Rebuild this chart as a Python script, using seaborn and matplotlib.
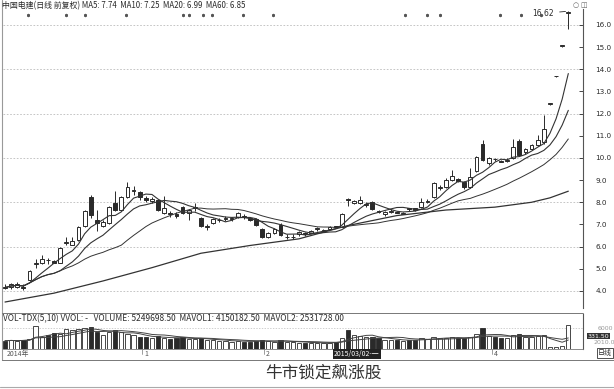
import numpy as np
import pandas as pd
import matplotlib
matplotlib.use("Agg")
import matplotlib.pyplot as plt
import seaborn as sns

# ---------------- data ----------------
opens = [4.20, 4.20, 4.20, 4.20, 4.50, 5.20, 5.25, 5.40, 5.35, 5.28,
         6.15, 6.08, 6.30, 6.95, 8.24, 7.20, 6.95, 7.07, 7.97, 7.65,
         8.24, 8.50, 8.47, 8.20, 8.05, 8.10, 7.50, 7.52, 7.47, 7.80,
         7.50, 7.73, 7.30, 6.88, 7.07, 7.18, 7.24, 7.23, 7.35, 7.38,
         7.30, 7.25, 6.80, 6.43, 6.62, 6.98, 6.42, 6.42, 6.55, 6.60,
         6.62, 6.78, 6.72, 6.80, 6.92, 6.90, 8.17, 7.95, 7.95, 7.88,
         8.00, 7.62, 7.45, 7.58, 7.58, 7.47, 7.72, 7.72, 7.80, 8.03,
         8.24, 8.63, 8.70, 9.00, 9.05, 8.90, 8.70, 9.40, 10.63, 9.75,
         9.97, 9.88, 9.88, 10.00, 10.77, 10.25, 10.40, 10.60, 10.70, 12.43,
         13.68, 15.05, 16.56]
closes = [4.15, 4.30, 4.30, 4.15, 4.90, 5.25, 5.45, 5.38, 5.28, 5.94,
          6.20, 6.25, 6.90, 7.60, 7.43, 7.05, 7.10, 7.80, 7.65, 8.24,
          8.70, 8.55, 8.24, 8.12, 8.15, 7.65, 7.75, 7.45, 7.40, 7.50,
          7.65, 7.77, 6.93, 6.92, 7.25, 7.22, 7.26, 7.27, 7.50, 7.33,
          7.22, 6.98, 6.43, 6.62, 6.78, 6.52, 6.45, 6.45, 6.65, 6.55,
          6.70, 6.82, 6.75, 6.90, 6.88, 7.47, 8.12, 8.05, 8.10, 7.92,
          7.70, 7.58, 7.55, 7.62, 7.53, 7.53, 7.68, 7.66, 8.00, 8.06,
          8.85, 8.67, 9.00, 9.20, 8.98, 8.70, 9.15, 10.05, 9.90, 10.00,
          9.93, 9.83, 9.92, 10.50, 10.13, 10.40, 10.60, 10.80, 11.30, 12.45,
          13.68, 15.05, 16.56]
highs = [4.30, 4.35, 4.40, 4.30, 4.95, 5.45, 5.60, 5.50, 5.40, 5.98,
         6.45, 6.45, 6.95, 7.65, 8.35, 7.65, 7.20, 7.85, 8.50, 8.30,
         8.90, 8.75, 8.50, 8.30, 8.25, 8.15, 8.30, 7.60, 7.55, 7.85,
         7.70, 7.95, 7.35, 7.00, 7.30, 7.30, 7.40, 7.35, 7.55, 7.45,
         7.35, 7.30, 6.85, 6.65, 6.85, 7.05, 6.55, 6.55, 6.70, 6.65,
         6.75, 6.90, 6.80, 6.92, 6.95, 7.50, 8.20, 8.10, 8.30, 8.00,
         8.05, 7.65, 7.60, 7.70, 7.60, 7.58, 7.75, 7.75, 8.20, 8.15,
         8.90, 8.80, 9.10, 9.45, 9.10, 8.95, 9.55, 10.10, 10.80, 10.05,
         10.00, 9.90, 10.00, 10.85, 10.85, 10.45, 10.65, 11.05, 11.95, 12.45,
         13.68, 15.05, 16.62]
lows = [4.10, 4.10, 4.15, 4.05, 4.45, 5.05, 5.20, 5.20, 5.25, 5.25,
        6.05, 6.05, 6.25, 6.90, 7.30, 6.70, 6.90, 7.00, 7.60, 7.60,
        8.20, 8.35, 8.10, 8.00, 7.95, 7.60, 7.45, 7.35, 7.30, 7.45,
        7.20, 7.60, 6.90, 6.75, 7.00, 7.10, 7.15, 7.15, 7.30, 7.25,
        7.15, 6.95, 6.40, 6.40, 6.55, 6.50, 6.35, 6.35, 6.50, 6.50,
        6.60, 6.70, 6.65, 6.78, 6.85, 6.88, 7.85, 7.90, 7.90, 7.80,
        7.65, 7.50, 7.40, 7.50, 7.50, 7.45, 7.60, 7.60, 7.75, 7.95,
        8.20, 8.55, 8.65, 8.95, 8.90, 8.60, 8.65, 9.35, 9.85, 9.70,
        9.85, 9.80, 9.80, 9.95, 10.10, 10.20, 10.35, 10.55, 10.65, 12.40,
        13.65, 15.00, 15.80]
# volume in units of 10,000
volumes = [230, 250, 220, 260, 280, 635, 340, 380, 440, 420,
           550, 530, 550, 575, 630, 465, 380, 465, 525, 465,
           425, 380, 340, 330, 300, 360, 320, 290, 300, 330,
           280, 270, 300, 260, 240, 230, 220, 210, 230, 210,
           200, 220, 260, 220, 210, 240, 200, 190, 180, 170,
           175, 180, 170, 175, 190, 300, 525, 380, 360, 340,
           330, 300, 260, 250, 240, 230, 250, 260, 300, 280,
           330, 300, 320, 340, 310, 300, 330, 420, 590, 360,
           330, 320, 300, 380, 420, 340, 330, 360, 380, 60,
           70, 80, 670]
# MA60 line read at sample candles
ma60_idx = [0, 8, 16, 24, 32, 40, 48, 56, 64, 72, 80, 86, 89, 92]
ma60_val = [3.50, 3.90, 4.45, 5.05, 5.70, 6.05, 6.35, 6.95, 7.40, 7.65, 7.78, 8.00, 8.20, 8.50]

# info markers along the top (candle positions)
marker_idx = [3.8, 10, 13, 19.8, 29, 30, 32.4, 33.8, 38.9, 43.8, 65.4, 69, 71, 80.9, 84.3, 87.6]

price_ticks = [4, 5, 6, 7, 8, 9, 10, 11, 12, 13, 14, 15, 16]
month_labels = ["2014年", "1", "2", "4"]
month_pos = [0, 22.4, 42.3, 79.5]

# ---------------- figure ----------------
sns.set_theme(style="white")
plt.rcParams['font.family'] = ['Noto Sans CJK SC', 'DejaVu Sans']

W, H = 614, 389
fig = plt.figure(figsize=(W / 100, H / 100), dpi=100)
fig.patch.set_facecolor("white")

def fx(px):
    return px / W

def fy(py):
    return 1 - py / H

INK = "#2a2a2a"
GRID = "#bcbcbc"

axp = fig.add_axes([fx(3), fy(308), fx(580), fy(9) - fy(308)])
axv = fig.add_axes([fx(3), fy(349), fx(580), fy(314) - fy(349)])

n = len(closes)
idx = np.arange(n)
df = pd.DataFrame({"i": idx, "open": opens, "close": closes, "high": highs,
                   "low": lows, "vol": volumes})
df["MA5"] = df["close"].rolling(5, min_periods=1).mean()
df["MA10"] = df["close"].rolling(10, min_periods=1).mean()
df["MA20"] = df["close"].rolling(20, min_periods=1).mean()
df["MAV5"] = df["vol"].rolling(5, min_periods=1).mean()
df["MAV10"] = df["vol"].rolling(10, min_periods=1).mean()
ma60 = pd.DataFrame({"i": ma60_idx, "v": ma60_val})

XMIN, XMAX = -0.33, 94.4
YMIN, YMAX = 3.23, 16.72

for v in [4, 6, 8, 10, 12, 14, 16]:
    axp.axhline(v, color=GRID, lw=0.6, ls=(0, (2, 2)), zorder=0)

# candles
up = df["close"] >= df["open"]
bw = 0.62
axp.vlines(df["i"], df["low"], df["high"], color=INK, lw=0.7, zorder=2)
body_b = np.minimum(df["open"], df["close"])
body_h = np.maximum(np.abs(df["close"] - df["open"]), 0.03)
axp.bar(df["i"][up], body_h[up], bottom=body_b[up], width=bw,
        facecolor="white", edgecolor=INK, lw=0.7, zorder=3)
axp.bar(df["i"][~up], body_h[~up], bottom=body_b[~up], width=bw,
        facecolor=INK, edgecolor=INK, lw=0.7, zorder=3)

for col, lw in [("MA5", 0.8), ("MA10", 0.8), ("MA20", 0.7)]:
    sns.lineplot(data=df, x="i", y=col, ax=axp, color="#333333", lw=lw,
                 legend=False, zorder=4)
sns.lineplot(data=ma60, x="i", y="v", ax=axp, color="#333333", lw=0.9,
             legend=False, zorder=4)

axp.set_xlim(XMIN, XMAX)
axp.set_ylim(YMIN, YMAX)
axp.set_xlabel("")
axp.set_ylabel("")
axp.set_xticks([])
axp.yaxis.tick_right()
axp.set_yticks(price_ticks)
axp.set_yticklabels([f"{t:.1f}" for t in price_ticks], fontsize=5.2,
                    color=INK, family="DejaVu Sans")
axp.tick_params(axis="y", direction="in", length=3, width=0.6, pad=9,
                colors=INK, labelcolor=INK)
for s in ["top", "left", "bottom"]:
    axp.spines[s].set_visible(False)
axp.spines["right"].set_color("#555555")
axp.spines["right"].set_linewidth(0.8)

# info markers on top row
axp.scatter(marker_idx, [16.45] * len(marker_idx), marker=(6, 2, 0), s=4,
            color="#555555", lw=0.5, zorder=5)

axp.annotate("16.62", xy=(92, 16.62), xytext=(89.6, 16.52),
             fontsize=5.5, color=INK, family="DejaVu Sans", ha="right", va="center",
             arrowprops=dict(arrowstyle="-", color=INK, lw=0.6))

# volume
vup = up.values
axv.bar(idx[vup], df["vol"][vup], width=0.7, facecolor="white",
        edgecolor=INK, lw=0.6, zorder=3)
axv.bar(idx[~vup], df["vol"][~vup], width=0.7, facecolor=INK,
        edgecolor=INK, lw=0.6, zorder=3)
sns.lineplot(data=df, x="i", y="MAV5", ax=axv, color="#444444", lw=0.7,
             legend=False, zorder=4)
sns.lineplot(data=df, x="i", y="MAV10", ax=axv, color="#444444", lw=0.7,
             legend=False, zorder=4)
axv.axhline(600, color=GRID, lw=0.5, ls=(0, (2, 2)), zorder=0)
axv.set_xlim(XMIN, XMAX)
axv.set_ylim(0, 980)
axv.set_xticks([])
axv.set_yticks([])
axv.set_xlabel("")
axv.set_ylabel("")
for s in ["top", "left"]:
    axv.spines[s].set_visible(False)
axv.spines["right"].set_color("#555555")
axv.spines["right"].set_linewidth(0.8)
axv.spines["bottom"].set_color("#777777")
axv.spines["bottom"].set_linewidth(0.6)

# month labels with small separators
for lab, p in zip(month_labels, month_pos):
    axv.text(p + 0.3, -30, lab, fontsize=5, color="#555555", ha="left", va="top")
    if p > 0:
        axv.plot([p, p], [0, -150], color="#777777", lw=0.5, clip_on=False)
axv.text(57.5, -30, "2015/03/02-一", fontsize=5, color="white", ha="center",
         va="top", bbox=dict(boxstyle="square,pad=0.15", fc="#222222", ec="none"))

# right side volume scale texts
fig.text(fx(598), fy(329), "6000", fontsize=4.5, color="#999999", ha="left", va="center",
         family="DejaVu Sans")
fig.text(fx(588), fy(336), "331.50", fontsize=4.5, color="white", ha="left", va="center",
         family="DejaVu Sans", bbox=dict(boxstyle="square,pad=0.1", fc="#333333", ec="none"))
fig.text(fx(594), fy(343), "2010.0", fontsize=4.5, color="#999999", ha="left", va="center",
         family="DejaVu Sans")
fig.text(fx(598), fy(353), "日线", fontsize=5, color=INK, ha="left", va="center",
         bbox=dict(boxstyle="square,pad=0.1", fc="white", ec="#333333", lw=0.6))

# top-right icons
fig.text(fx(576), fy(5), "○", fontsize=5, color="#666666", ha="center", va="center",
         family="DejaVu Sans")
fig.text(fx(584), fy(5), "◫", fontsize=5, color="#666666", ha="center", va="center",
         family="DejaVu Sans")

# frame lines
fig.add_artist(plt.Line2D([fx(2), fx(2)], [fy(0), fy(360)], color="#999999", lw=0.8))
fig.add_artist(plt.Line2D([fx(2), fx(583)], [fy(313), fy(313)], color="#777777", lw=0.7))
fig.add_artist(plt.Line2D([fx(2), fx(614)], [fy(360), fy(360)], color="#777777", lw=0.7))
fig.add_artist(plt.Line2D([fx(0), fx(614)], [fy(387), fy(387)], color="#aaaaaa", lw=0.8))

# header texts
fig.text(fx(2), fy(6), "中国电建(日线 前复权) MA5: 7.74  MA10: 7.25  MA20: 6.99  MA60: 6.85",
         fontsize=5.7, color=INK, ha="left", va="center")
fig.text(fx(3), fy(319), "VOL-TDX(5,10) VVOL: -   VOLUME: 5249698.50  MAVOL1: 4150182.50  MAVOL2: 2531728.00",
         fontsize=6.0, color=INK, ha="left", va="center")

# caption
fig.text(fx(323), fy(373), "牛市锁定飙涨股", fontsize=12, color="#333333",
         ha="center", va="center")

fig.savefig("out.png", dpi=100, facecolor="white")
